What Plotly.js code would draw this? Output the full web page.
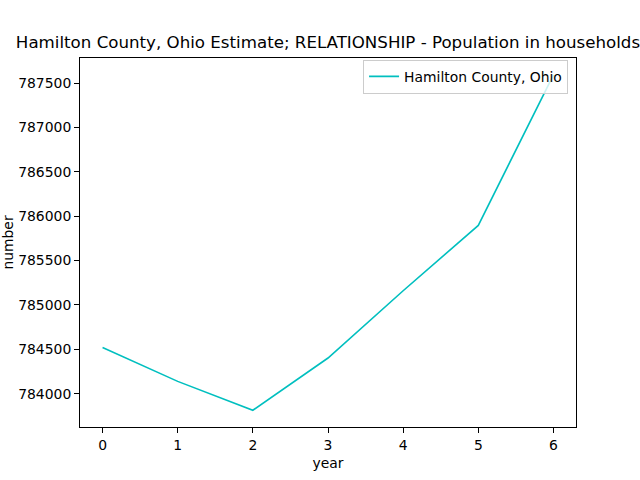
<!DOCTYPE html>
<html>
<head>
<meta charset="utf-8">
<script src="https://cdn.plot.ly/plotly-3.0.1.min.js"></script>
<style>html,body{margin:0;padding:0;background:#fff;}#chart{width:640px;height:480px;}</style>
</head>
<body>
<div id="chart"></div>
<script>
const years = [0, 1, 2, 3, 4, 5, 6];
const population = [784521, 784139, 783814, 784402, 785160, 785896, 787593];
const seriesName = "Hamilton County, Ohio";
const chartTitle = "Hamilton County, Ohio Estimate; RELATIONSHIP - Population in households";

const ymin = Math.min(...population), ymax = Math.max(...population);
const ypad = (ymax - ymin) * 0.05;
const xmin = Math.min(...years), xmax = Math.max(...years);
const xpad = (xmax - xmin) * 0.05;

const font = {family: "DejaVu Sans, sans-serif", size: 13.9, color: "#000"};

Plotly.newPlot("chart", [{
  x: years, y: population, type: "scatter", mode: "lines", name: seriesName,
  line: {color: "#00bfbf", width: 1.6}
}], {
  width: 640, height: 480,
  margin: {l: 80, r: 64, t: 58, b: 53, pad: 0},
  paper_bgcolor: "#fff", plot_bgcolor: "#fff",
  font: font,
  showlegend: true,
  title: {text: chartTitle, font: {family: "DejaVu Sans, sans-serif", size: 16.67, color: "#000"},
          xref: "paper", x: 0.5, xanchor: "center", yref: "container", y: 1 - 42/480, yanchor: "middle"},
  xaxis: {range: [xmin - xpad, xmax + xpad], dtick: 1, tick0: 0, showgrid: false, zeroline: false,
          showline: true, linecolor: "#000", linewidth: 1, mirror: true,
          ticks: "outside", ticklen: 5, tickwidth: 1, tickcolor: "#000",
          title: {text: "year", font: font, standoff: 6}},
  yaxis: {range: [ymin - ypad, ymax + ypad], dtick: 500, tick0: 0, tickformat: "d", showgrid: false, zeroline: false,
          showline: true, linecolor: "#000", linewidth: 1, mirror: true,
          ticks: "outside", ticklen: 5, tickwidth: 1, tickcolor: "#000",
          title: {text: "number", font: font, standoff: 10}},
  legend: {x: 0.984, y: 0.995, xanchor: "right", yanchor: "top", bgcolor: "rgba(255,255,255,0.8)",
           bordercolor: "#cccccc", borderwidth: 1, font: font}
}, {staticPlot: true});
</script>
</body>
</html>
